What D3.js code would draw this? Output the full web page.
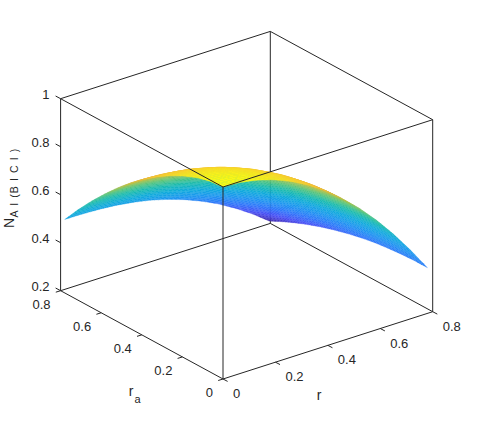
<!DOCTYPE html>
<html>
<head>
<meta charset="utf-8">
<script src="https://cdn.jsdelivr.net/npm/d3@7/dist/d3.min.js"></script>
<style>
html,body{margin:0;padding:0;background:#fff;}
text{font-family:"Liberation Sans",Arial,sans-serif;fill:#262626;}
</style>
</head>
<body>
<svg id="chart" width="478" height="426"></svg>
<script>
const rValues  = [0,0.065,0.13,0.195,0.26,0.325,0.39,0.455,0.52,0.585,0.65,0.715,0.78];
const raValues = [0,0.065,0.13,0.195,0.26,0.325,0.39,0.455,0.52,0.585,0.65,0.715,0.78];
// rows follow raValues, columns follow rValues
const zValues = [
 [1.000,0.996,0.983,0.962,0.932,0.894,0.848,0.792,0.729,0.657,0.576,0.487,0.390],
 [0.994,0.989,0.977,0.956,0.927,0.889,0.843,0.789,0.726,0.654,0.575,0.486,0.390],
 [0.979,0.975,0.962,0.942,0.913,0.877,0.832,0.778,0.717,0.647,0.569,0.482,0.387],
 [0.956,0.953,0.941,0.921,0.894,0.858,0.815,0.763,0.703,0.635,0.559,0.475,0.382],
 [0.928,0.924,0.913,0.895,0.868,0.834,0.792,0.743,0.685,0.620,0.546,0.464,0.375],
 [0.893,0.890,0.880,0.862,0.837,0.805,0.765,0.718,0.663,0.600,0.529,0.451,0.365],
 [0.853,0.850,0.841,0.824,0.801,0.771,0.733,0.689,0.637,0.577,0.510,0.435,0.352],
 [0.808,0.805,0.796,0.781,0.760,0.732,0.697,0.655,0.606,0.550,0.487,0.416,0.337],
 [0.757,0.755,0.747,0.734,0.714,0.689,0.657,0.618,0.572,0.520,0.460,0.394,0.320],
 [0.701,0.699,0.693,0.681,0.664,0.641,0.612,0.576,0.535,0.486,0.431,0.369,0.300],
 [0.641,0.639,0.634,0.624,0.609,0.589,0.563,0.531,0.493,0.449,0.399,0.342,0.278],
 [0.576,0.575,0.570,0.562,0.550,0.532,0.510,0.482,0.449,0.409,0.364,0.312,0.253],
 [0.506,0.505,0.502,0.496,0.486,0.472,0.453,0.429,0.400,0.366,0.325,0.279,0.226]
];
const rTicks  = [0,0.2,0.4,0.6,0.8];
const raTicks = [0,0.2,0.4,0.6,0.8];
const zTicks  = [0.2,0.4,0.6,0.8,1];
const parulaStops = ["#3e26a8","#4a50f5","#3078fa","#1e96f0","#10aadc","#18bab0","#55c47c","#b0c048","#f0ba3c","#f8d82c","#f9fb14"];

const svg = d3.select("#chart");

// Oblique projection, one scale per data axis and screen axis
const rToX  = d3.scaleLinear().domain([0,0.8]).range([0,209.7]);
const rToY  = d3.scaleLinear().domain([0,0.8]).range([0,-67.3]);
const raToX = d3.scaleLinear().domain([0,0.8]).range([0,-162.4]);
const raToY = d3.scaleLinear().domain([0,0.8]).range([0,-88.3]);
const zToY  = d3.scaleLinear().domain([0.2,1]).range([0,-192]);
const originX = 223, originY = 379;
const px = (r,ra) => originX + rToX(r) + raToX(ra);
const py = (r,ra,z) => originY + rToY(r) + raToY(ra) + zToY(z);
const P = (r,ra,z) => [px(r,ra), py(r,ra,z)];
const depth = (r,ra,z) => -48720*r - 62880*ra + 45872*z;

const zFlat = zValues.flat();
const colorT = d3.scaleLinear().domain(d3.extent(zFlat)).range([0,1]);
const parula = d3.scaleLinear()
  .domain(parulaStops.map((_,i)=>i/(parulaStops.length-1)))
  .range(parulaStops).interpolate(d3.interpolateRgb);

const boxLine = (a,b,sw) => svg.append("line")
  .attr("x1",a[0]).attr("y1",a[1]).attr("x2",b[0]).attr("y2",b[1])
  .attr("stroke","#262626").attr("stroke-width",sw||1);

const zLo=0.2,zHi=1,hi=0.8;
// back box edges, behind the surface
boxLine(P(hi,hi,zLo),P(hi,hi,zHi));
boxLine(P(hi,hi,zLo),P(0,hi,zLo));
boxLine(P(hi,hi,zLo),P(hi,0,zLo));
boxLine(P(0,hi,zHi),P(hi,hi,zHi));
boxLine(P(hi,0,zHi),P(hi,hi,zHi));

// surface: interpolated shading inside every measured cell
const sub = 4, quads = [];
for (let j=0;j<raValues.length-1;j++) for (let i=0;i<rValues.length-1;i++) {
  const z00=zValues[j][i], z10=zValues[j][i+1], z01=zValues[j+1][i], z11=zValues[j+1][i+1];
  const at=(u,v)=>{
    const r=rValues[i]+(rValues[i+1]-rValues[i])*u;
    const ra=raValues[j]+(raValues[j+1]-raValues[j])*v;
    const z=z00*(1-u)*(1-v)+z10*u*(1-v)+z01*(1-u)*v+z11*u*v;
    return {r,ra,z};
  };
  for (let b=0;b<sub;b++) for (let a=0;a<sub;a++) {
    const c=[at(a/sub,b/sub),at((a+1)/sub,b/sub),at((a+1)/sub,(b+1)/sub),at(a/sub,(b+1)/sub)];
    const m={r:d3.mean(c,d=>d.r),ra:d3.mean(c,d=>d.ra),z:d3.mean(c,d=>d.z)};
    quads.push({c,m,d:depth(m.r,m.ra,m.z)});
  }
}
quads.sort((p,q)=>p.d-q.d);
svg.append("g").selectAll("path").data(quads).join("path")
  .attr("d",q=>"M"+q.c.map(d=>P(d.r,d.ra,d.z).map(v=>v.toFixed(2)).join(",")).join("L")+"Z")
  .attr("fill",q=>parula(colorT(q.m.z)))
  .attr("stroke",q=>parula(colorT(q.m.z)))
  .attr("stroke-width",0.25);

// front box edges, over the surface
boxLine(P(0,0,zLo),P(0,0,zHi));
boxLine(P(0,hi,zLo),P(0,hi,zHi));
boxLine(P(hi,0,zLo),P(hi,0,zHi));
boxLine(P(0,0,zHi),P(0,hi,zHi));
boxLine(P(0,0,zHi),P(hi,0,zHi));
boxLine(P(0,0,zLo),P(0,hi,zLo));
boxLine(P(0,0,zLo),P(hi,0,zLo));

const tick=(a,dx,dy)=>boxLine(a,[a[0]+dx,a[1]+dy]);
const label=(x,y,s,anchor)=>svg.append("text").attr("x",x).attr("y",y)
  .attr("text-anchor",anchor||"middle").attr("font-size",13).text(s);

zTicks.forEach(z=>{
  const a=P(0,hi,z);
  tick(a,-5,-2.7);
  label(a[0]-11,a[1]+0.5,String(z),"end");
});
rTicks.forEach(r=>{
  const a=P(r,0,zLo);
  tick(a,4.6,2.4);
  label(a[0]+10,a[1]+19,String(r),"start");
});
raTicks.forEach(ra=>{
  const a=P(0,ra,zLo);
  tick(a,-4.8,1.5);
  label(a[0]-10,a[1]+18,String(ra),"end");
});

// axis titles
svg.append("text").attr("x",319).attr("y",400).attr("text-anchor","middle").attr("font-size",14).text("r");
svg.append("text").attr("x",131).attr("y",396).attr("text-anchor","middle").attr("font-size",14).text("r");
svg.append("text").attr("x",137.5).attr("y",403).attr("text-anchor","middle").attr("font-size",11).text("a");
const zt = svg.append("text").attr("transform","translate(13.5,228) rotate(-90)").attr("font-size",14);
zt.append("tspan").text("N");
zt.append("tspan").attr("dy",4).attr("dx",0.5).attr("font-size",10.5).attr("letter-spacing",1.1).text("A I (B I C I )");
</script>
</body>
</html>
